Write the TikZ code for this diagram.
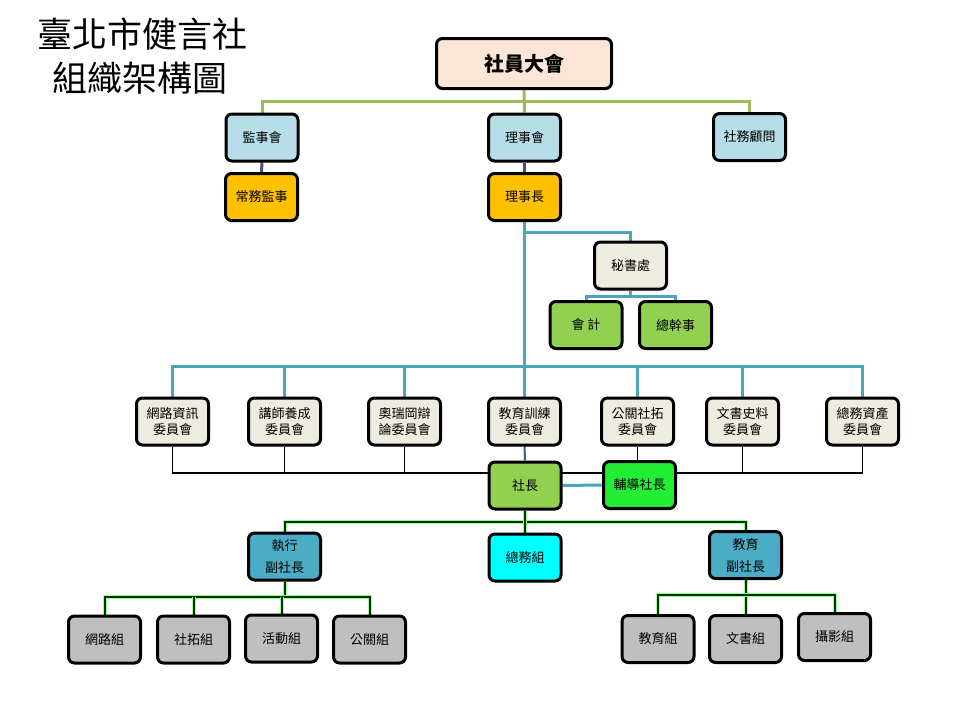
\documentclass[tikz,border=0pt]{standalone}
\usepackage{fontspec}
\setmainfont{Noto Sans CJK TC}
\usetikzlibrary{backgrounds}
\definecolor{peach}{HTML}{FCE4D6}
\definecolor{lblue}{HTML}{B7DDE8}
\definecolor{orangeb}{HTML}{FFC000}
\definecolor{beige}{HTML}{EEECE1}
\definecolor{lgreen}{HTML}{92D050}
\definecolor{bgreen}{HTML}{22EE33}
\definecolor{mblue}{HTML}{4BACC6}
\definecolor{cyanb}{HTML}{00FFFF}
\definecolor{greyb}{HTML}{BFBFBF}
\definecolor{olivel}{HTML}{9BBB59}
\definecolor{teall}{HTML}{4BA6BA}
\definecolor{darkl}{HTML}{4F4F6F}
\definecolor{glow}{HTML}{99FF99}
\tikzset{
  box/.style={draw=black, line width=3pt, rounded corners=6pt, minimum width=72pt,
    minimum height=47pt, align=center, inner sep=1pt, font=\fontsize{13}{16.5}\selectfont},
  gline/.style={draw=olivel, line width=3pt},
  tline/.style={draw=teall, line width=3pt},
  dline/.style={draw=darkl, line width=3pt},
  kline/.style={draw=black, line width=1.6pt},
  glline/.style={draw=glow, double=black!80!green, double distance=2pt, line width=1pt},
}
\begin{document}
\begin{tikzpicture}[x=1pt,y=-1pt]
\useasboundingbox (0,0) rectangle (960,720);
% title
\node[inner sep=0pt, font=\fontsize{35}{38}\selectfont] (ttl1) at (142,34) {臺北市健言社};
\node[inner sep=0pt, font=\fontsize{35}{38}\selectfont] (ttl2) at (140,78) {組織架構圖};
% top
\node[box, fill=peach, minimum width=175pt, minimum height=50pt, font=\fontsize{20}{22}\selectfont\bfseries] (zh) at (524,63.5) {社員大會};
\node[box, fill=lblue] (jsh) at (262,137.5) {監事會};
\node[box, fill=lblue] (lsh) at (524.5,137.5) {理事會};
\node[box, fill=lblue] (gw) at (749.5,137) {社務顧問};
\node[box, fill=orangeb] (cwjs) at (261.5,197) {常務監事};
\node[box, fill=orangeb] (lsz) at (524.5,197) {理事長};
\node[box, fill=beige] (msc) at (630.5,265.5) {秘書處};
\node[box, fill=lgreen] (kj) at (586,325) {會 計};
\node[box, fill=lgreen] (gsz) at (675.5,325) {總幹事};
% committees
\node[box, fill=beige] (c1) at (172.5,421.5) {網路資訊\\委員會};
\node[box, fill=beige] (c2) at (284.5,421.5) {講師養成\\委員會};
\node[box, fill=beige] (c3) at (404.5,421.5) {奧瑞岡辯\\論委員會};
\node[box, fill=beige] (c4) at (524.5,421.5) {教育訓練\\委員會};
\node[box, fill=beige] (c5) at (637.5,421.5) {公關社拓\\委員會};
\node[box, fill=beige] (c6) at (742.5,421.5) {文書史料\\委員會};
\node[box, fill=beige] (c7) at (862.5,421.5) {總務資產\\委員會};
% president
\node[box, fill=lgreen] (sz) at (525,485.5) {社長};
\node[box, fill=bgreen] (fdsz) at (639.5,485) {輔導社長};
\node[box, fill=mblue, font=\fontsize{13}{22}\selectfont] (zx) at (284.5,556.5) {執行\\副社長};
\node[box, fill=cyanb] (zw) at (525,557.5) {總務組};
\node[box, fill=mblue, font=\fontsize{13}{22}\selectfont] (jy) at (745.5,555) {教育\\副社長};
% groups
\node[box, fill=greyb] (e1) at (104.5,639.5) {網路組};
\node[box, fill=greyb] (e2) at (193.5,639.5) {社拓組};
\node[box, fill=greyb] (e3) at (281.5,638.5) {活動組};
\node[box, fill=greyb] (e4) at (369.5,639.5) {公關組};
\node[box, fill=greyb] (f1) at (658,639) {教育組};
\node[box, fill=greyb] (f2) at (745.5,639) {文書組};
\node[box, fill=greyb] (f3) at (834.5,637) {攝影組};
% bus coordinates
\coordinate (b1) at (524,101);
\coordinate (t1) at (524.5,232);
\coordinate (t2) at (630.5,296);
\coordinate (t3) at (524.5,366);
\coordinate (k1) at (524.5,473);
\coordinate (g1) at (525,522);
\coordinate (g2) at (284.5,597);
\coordinate (g3) at (745.5,595);
\begin{scope}[on background layer]
\draw[gline] (zh.south) -- (lsh.north);
\draw[gline] (jsh.north) |- (b1) -| (gw.north);
\draw[dline] (jsh.south) -- (cwjs.north);
\draw[dline] (lsh.south) -- (lsz.north);
\draw[tline] (lsz.south) -- (c4.north);
\draw[tline] (t1) -| (msc.north);
\draw[tline] (msc.south) -- (t2);
\draw[tline] (kj.north) |- (t2) -| (gsz.north);
\draw[tline] (c1.north) |- (t3) -| (c7.north);
\foreach \c in {c2,c3,c5,c6} \draw[tline] (\c.north) -- (\c.north |- t3);
\draw[kline] (c1.south) |- (k1) -| (c7.south);
\foreach \c in {c2,c3,c6} \draw[kline] (\c.south) -- (\c.south |- k1);
\draw[draw=teall!60!black, line width=2pt] (c4.south) -- (sz.north);
\draw[kline] (c5.south) -- (c5.south |- fdsz.north);
\draw[tline] (sz.east) -- (fdsz.west);
\draw[glline] (zx.north) |- (g1) -| (jy.north);
\draw[glline] (sz.south) -- (zw.north);
\draw[glline] (zx.south) -- (g2);
\draw[glline] (e1.north) |- (g2) -| (e4.north);
\draw[glline] (e2.north) -- (e2.north |- g2);
\draw[glline] (e3.north) -- (e3.north |- g2);
\draw[glline] (jy.south) -- (f2.north);
\draw[glline] (f1.north) |- (g3) -| (f3.north);
\end{scope}
\end{tikzpicture}
\end{document}
